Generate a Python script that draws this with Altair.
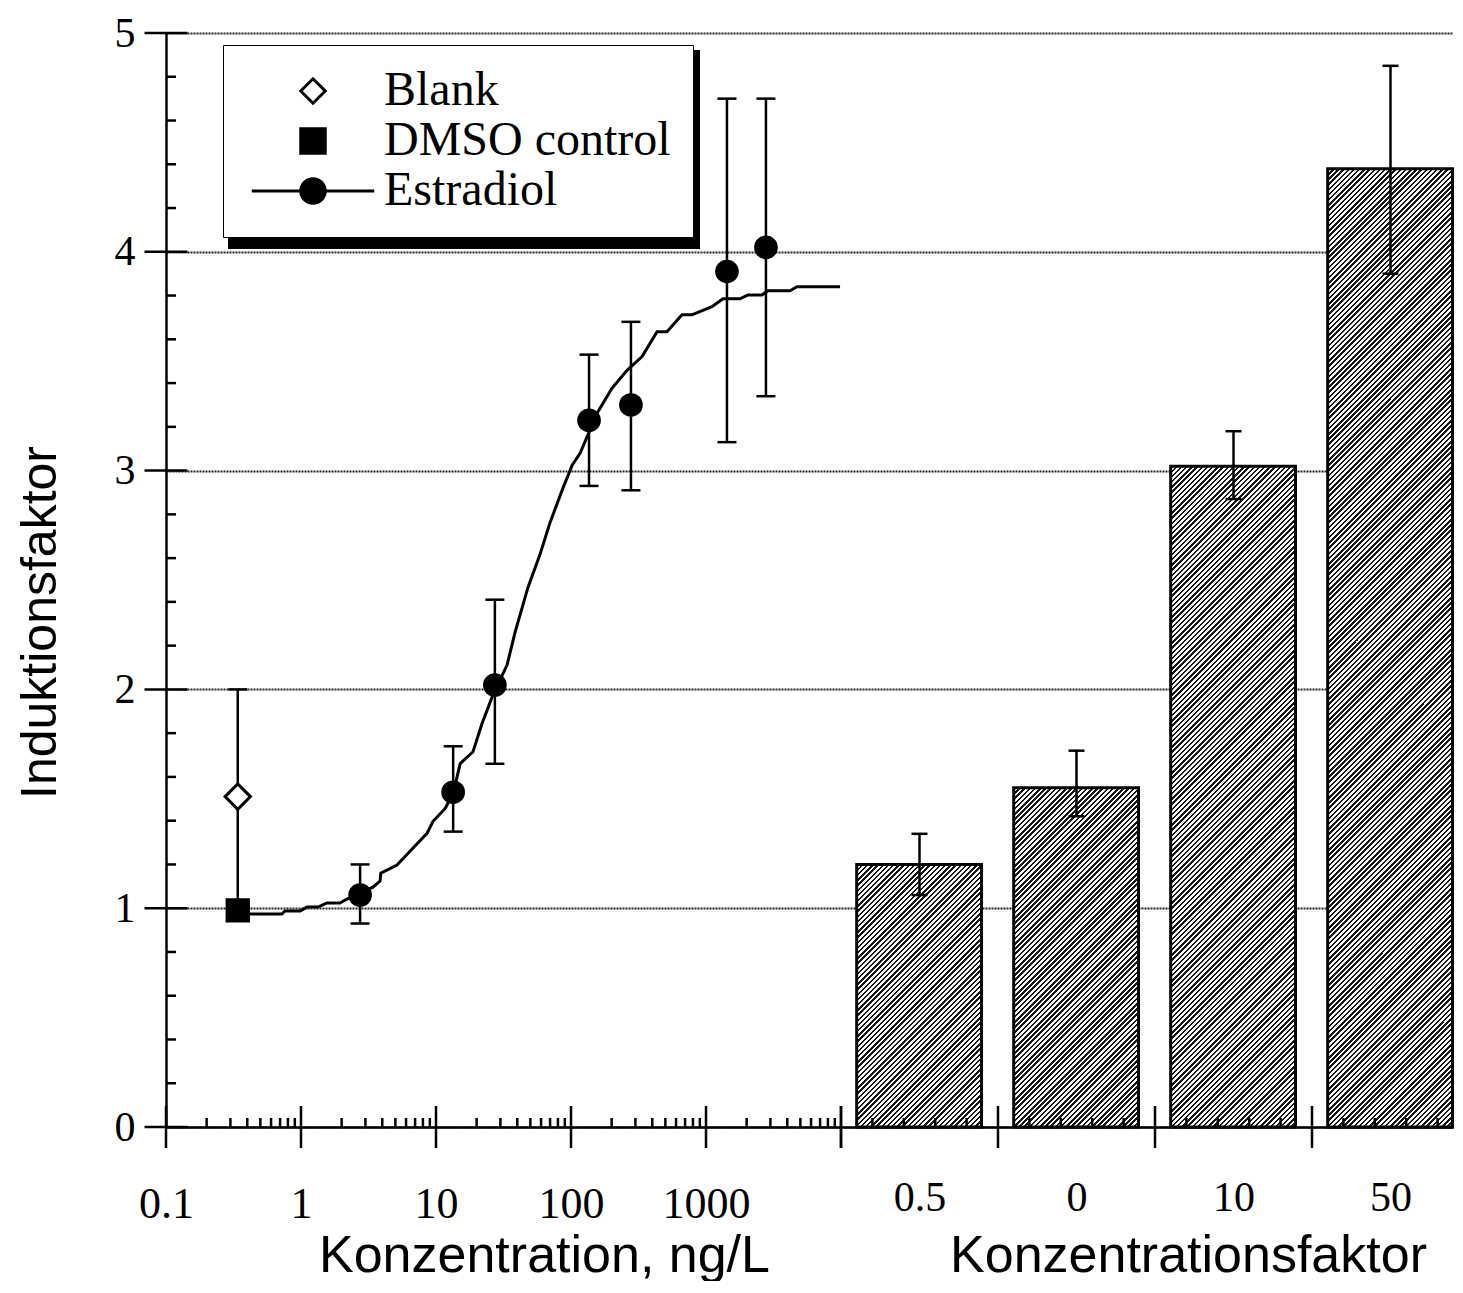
import altair as alt
import pandas as pd

SERIF = "Liberation Serif"
SANS = "Liberation Sans"

# ---------------- data ----------------
series_names = ["Blank", "DMSO control", "Estradiol"]

blank_x = [0.34]
blank_y = [1.51]
blank_lo = [1.00]
blank_hi = [2.00]

dmso_x = [0.34]
dmso_y = [0.99]

est_x = [2.74, 13.4, 27.3, 136, 278, 1430, 2780]
est_y = [1.06, 1.53, 2.02, 3.23, 3.30, 3.91, 4.02]
est_lo = [0.93, 1.35, 1.66, 2.93, 2.91, 3.13, 3.34]
est_hi = [1.20, 1.74, 2.41, 3.53, 3.68, 4.70, 4.70]

fit_x = [0.341, 0.723, 0.760, 0.984, 1.107, 1.336, 1.559, 1.945, 2.19, 3.41,
         3.85, 3.9, 5.14, 6.42, 8.58, 9.51, 11.7, 13.4, 15.1, 18.8, 21.9, 26.4,
         33.6, 38.5, 48.0, 58.9, 69.9, 87.3, 102, 117, 156, 201, 260, 336, 434,
         514, 664, 787, 1107, 1337, 1786, 2047, 2600, 2877, 4188, 4721, 9840]
fit_y = [0.974, 0.974, 0.987, 0.987, 1.005, 1.005, 1.024, 1.024, 1.042, 1.096,
         1.124, 1.160, 1.197, 1.260, 1.342, 1.397, 1.456, 1.524, 1.661, 1.715,
         1.843, 1.975, 2.111, 2.261, 2.466, 2.616, 2.762, 2.921, 3.025, 3.080,
         3.262, 3.376, 3.458, 3.521, 3.635, 3.635, 3.712, 3.712, 3.749, 3.785,
         3.785, 3.803, 3.803, 3.822, 3.822, 3.840, 3.840]

cats = ["0.5", "0", "10", "50"]
bar_val = [1.20, 1.55, 3.02, 4.38]
bar_lo = [1.06, 1.42, 2.87, 3.90]
bar_hi = [1.34, 1.72, 3.18, 4.85]

y_ticks = [0, 1, 2, 3, 4, 5]
y_minor = [v / 10 for v in range(0, 51, 2) if v % 10 != 0]
x_major = [0.1, 1, 10, 100, 1000, 10000]
x_labels = [0.1, 1, 10, 100, 1000]
x_minor = [m * 10 ** e for e in range(-1, 4) for m in range(2, 10)]
cat_major = [0, 1, 2, 3]
cat_minor = [i + f for i in range(4) for f in (0.2, 0.4, 0.6, 0.8)]

# ---------------- layout constants ----------------
W_L, W_R, H = 675, 612, 1094
STEP = 157.0
PX_PER_UNIT = H / 5.0
GRID = dict(grid=True, gridColor="#222222", gridDash=[2, 1], gridWidth=2)

xs = alt.Scale(type="log", domain=[0.1, 10000], nice=False)
ys = alt.Scale(domain=[0, 5], nice=False)
xr = alt.Scale(domain=[0, W_R / STEP], nice=False, zero=False)

y_axis = alt.Axis(values=y_ticks, title="Induktionsfaktor", titleFont=SANS,
                  titleFontSize=50, titleFontWeight="normal", titleColor="black",
                  titleX=-126, titleY=589, titleBaseline="middle", titleAlign="center",
                  titleAngle=270, labelFont=SERIF, labelFontSize=42, labelColor="black",
                  labelPadding=31, ticks=False, domain=True, domainColor="black",
                  domainWidth=2.5, **GRID)

x_axis_left = alt.Axis(values=x_labels, format="~g", title="Konzentration, ng/L",
                       titleFont=SANS, titleFontSize=52, titleFontWeight="normal",
                       titleColor="black", titleX=378, titleY=144,
                       titleBaseline="alphabetic", titleAlign="center",
                       labelFont=SERIF, labelFontSize=44, labelColor="black",
                       labelPadding=55, labelFlush=False, labelOverlap=False,
                       ticks=False, domainColor="black", domainWidth=2.5, grid=False)

label_js = "[" + ",".join("'" + c + "'" for c in cats) + "]"
x_axis_right = alt.Axis(values=[i + 0.5 for i in range(len(cats))],
                        labelExpr=label_js + "[floor(datum.value)]",
                        title="Konzentrationsfaktor", titleFont=SANS, titleFontSize=52,
                        titleFontWeight="normal", titleColor="black", titleX=347,
                        titleY=144, titleBaseline="alphabetic", titleAlign="center",
                        labelFont=SERIF, labelFontSize=42, labelColor="black",
                        labelPadding=50, labelFlush=False, labelOverlap=False,
                        ticks=False, domainColor="black", domainWidth=2.5, grid=False)

y_axis_right = alt.Axis(values=y_ticks, labels=False, ticks=False, domain=False,
                        title=None, **GRID)

EST_PATH = "M-5,0L5,0M-1,0A1,1,0,1,0,1,0A1,1,0,1,0,-1,0Z"
legend = alt.Legend(orient="none", legendX=57, legendY=12, direction="vertical",
                    title=None, labelFont=SERIF, labelFontSize=48, labelColor="black",
                    labelLimit=0, labelOffset=47, symbolOffset=44, padding=22,
                    rowPadding=2, strokeColor="black", fillColor="white",
                    symbolSize=600, symbolStrokeColor="black", symbolStrokeWidth=3,
                    symbolOpacity=1)

# ---------------- dataframes ----------------
df_fit = pd.DataFrame({"x": fit_x, "y": fit_y})
df_est = pd.DataFrame({"x": est_x, "y": est_y})
df_blank = pd.DataFrame({"x": blank_x, "y": blank_y, "series": ["Blank"] * len(blank_x)})
df_dmso = pd.DataFrame({"x": dmso_x, "y": dmso_y, "series": ["DMSO control"] * len(dmso_x)})
df_err = pd.DataFrame({"x": blank_x + est_x, "lo": blank_lo + est_lo, "hi": blank_hi + est_hi})
df_caps = pd.DataFrame({"x": (blank_x + est_x) * 2,
                        "y": blank_lo + est_lo + blank_hi + est_hi})
df_xmaj = pd.DataFrame({"x": x_major})
df_xmin = pd.DataFrame({"x": x_minor})
df_ymaj = pd.DataFrame({"y": y_ticks})
df_ymin = pd.DataFrame({"y": y_minor})
df_one = pd.DataFrame({"a": [0]})

# ---------------- left panel ----------------
def X(f):
    return alt.X(f, scale=xs, axis=x_axis_left)

def Y(f):
    return alt.Y(f, scale=ys, axis=y_axis)

XD = alt.XDatum(0.1, scale=xs, axis=x_axis_left)
YD = alt.YDatum(0, scale=ys, axis=y_axis)

shadow = alt.Chart(df_one).mark_rect(color="black").encode(
    x=alt.value(62), x2=alt.value(534), y=alt.value(17), y2=alt.value(216))

fit = alt.Chart(df_fit).mark_line(color="black", strokeWidth=3).encode(
    x=X("x:Q"), y=Y("y:Q"))

xmaj = alt.Chart(df_xmaj).mark_tick(orient="vertical", size=42, thickness=2.5,
                                    color="black", opacity=1).encode(x=X("x:Q"), y=YD)
xmin = alt.Chart(df_xmin).mark_tick(orient="vertical", size=9, thickness=2.5,
                                    color="black", opacity=1, yOffset=-4.5).encode(
    x=X("x:Q"), y=YD)
ymaj = alt.Chart(df_ymaj).mark_tick(orient="horizontal", size=43, thickness=2.5,
                                    color="black", opacity=1).encode(y=Y("y:Q"), x=XD)
ymin = alt.Chart(df_ymin).mark_tick(orient="horizontal", size=10, thickness=2.5,
                                    color="black", opacity=1, xOffset=5).encode(
    y=Y("y:Q"), x=XD)

err = alt.Chart(df_err).mark_rule(color="black", strokeWidth=2.5).encode(
    x=X("x:Q"), y=Y("lo:Q"), y2="hi:Q")
caps = alt.Chart(df_caps).mark_tick(orient="horizontal", size=19, thickness=2.5,
                                    color="black", opacity=1).encode(
    x=X("x:Q"), y=Y("y:Q"))

shape_enc = alt.Shape("series:N", scale=alt.Scale(domain=series_names,
                                                  range=["diamond", "square", EST_PATH]),
                      legend=legend)
fill_enc = alt.Fill("series:N", scale=alt.Scale(domain=series_names,
                                                range=["white", "black", "black"]),
                    legend=legend)
stroke_enc = alt.Stroke("series:N", scale=alt.Scale(domain=series_names,
                                                    range=["black", "black", "black"]),
                        legend=legend)

blank_pts = alt.Chart(df_blank).mark_point(filled=True, size=640, strokeWidth=3,
                                           opacity=1).encode(
    x=X("x:Q"), y=Y("y:Q"), shape=shape_enc, fill=fill_enc, stroke=stroke_enc)
dmso_pts = alt.Chart(df_dmso).mark_point(filled=True, size=500, strokeWidth=2,
                                         opacity=1).encode(
    x=X("x:Q"), y=Y("y:Q"), shape=shape_enc, fill=fill_enc, stroke=stroke_enc)

est = alt.Chart(df_est).mark_circle(size=560, color="black", opacity=1).encode(
    x=X("x:Q"), y=Y("y:Q"))

left = alt.layer(shadow, fit, xmaj, xmin, ymaj, ymin, err, caps, blank_pts,
                 dmso_pts, est).properties(width=W_L, height=H)

# ---------------- right panel ----------------
def hatch(w, h, period=5.2, dark=0.47, c_dark="#161616", c_light="#ffffff"):
    r = w / h
    b = (r + 1) / (r * r + 1)
    a = r * b
    L = w + h
    stops = []
    k = 0
    while k * period < L:
        t0 = k * period / L
        t1 = min((k + dark) * period / L, 1.0)
        t2 = min((k + 1) * period / L, 1.0)
        stops += [{"offset": round(t0, 5), "color": c_dark},
                  {"offset": round(t1, 5), "color": c_dark},
                  {"offset": round(t1, 5), "color": c_light},
                  {"offset": round(t2, 5), "color": c_light}]
        k += 1
    return {"gradient": "linear", "x1": 0, "y1": 0, "x2": round(a, 5),
            "y2": round(b, 5), "stops": stops}

def XR(f):
    return alt.X(f, scale=xr, axis=x_axis_right)

def YR(f):
    return alt.Y(f, scale=ys, axis=y_axis_right)

YRD = alt.YDatum(0, scale=ys, axis=y_axis_right)

df_bars = pd.DataFrame({"i": list(range(len(cats))), "cat": cats, "val": bar_val,
                        "lo": bar_lo, "hi": bar_hi})
BAR_L, BAR_R = 0.1, 0.895
BAR_W = (BAR_R - BAR_L) * STEP

bar_layers = []
for i, v in enumerate(bar_val):
    bl = alt.Chart(df_bars).transform_filter(alt.datum.i == i).transform_calculate(
        x0=f"datum.i + {BAR_L}", x1=f"datum.i + {BAR_R}").mark_bar(
        fill=hatch(BAR_W, v * PX_PER_UNIT), stroke="black", strokeWidth=3,
        opacity=1).encode(
        x=XR("x0:Q"), x2="x1:Q", y=YR("val:Q"), y2=alt.Y2Datum(0))
    bar_layers.append(bl)

df_rcaps = pd.DataFrame({"i": list(range(len(cats))) * 2, "y": bar_lo + bar_hi})
rerr = alt.Chart(df_bars).transform_calculate(xc="datum.i + 0.5").mark_rule(
    color="black", strokeWidth=2.5).encode(x=XR("xc:Q"), y=YR("lo:Q"), y2="hi:Q")
rcaps = alt.Chart(df_rcaps).transform_calculate(xc="datum.i + 0.5").mark_tick(
    orient="horizontal", size=16, thickness=2.5, color="black", opacity=1).encode(
    x=XR("xc:Q"), y=YR("y:Q"))

rmaj = alt.Chart(pd.DataFrame({"v": cat_major})).mark_tick(
    orient="vertical", size=42, thickness=2.5, color="black", opacity=1).encode(
    x=XR("v:Q"), y=YRD)
rmin = alt.Chart(pd.DataFrame({"v": cat_minor})).mark_tick(
    orient="vertical", size=9, thickness=2.5, color="black", opacity=1,
    yOffset=-4.5).encode(x=XR("v:Q"), y=YRD)

right = alt.layer(*bar_layers, rerr, rcaps, rmaj, rmin).properties(width=W_R, height=H)

chart = alt.hconcat(left, right, spacing=0, bounds="flush").properties(
    padding={"left": 7, "top": 4, "right": 0, "bottom": 0}
).configure_view(stroke=None)

chart.save("out.html", embed_options={"renderer": "svg", "actions": False})
